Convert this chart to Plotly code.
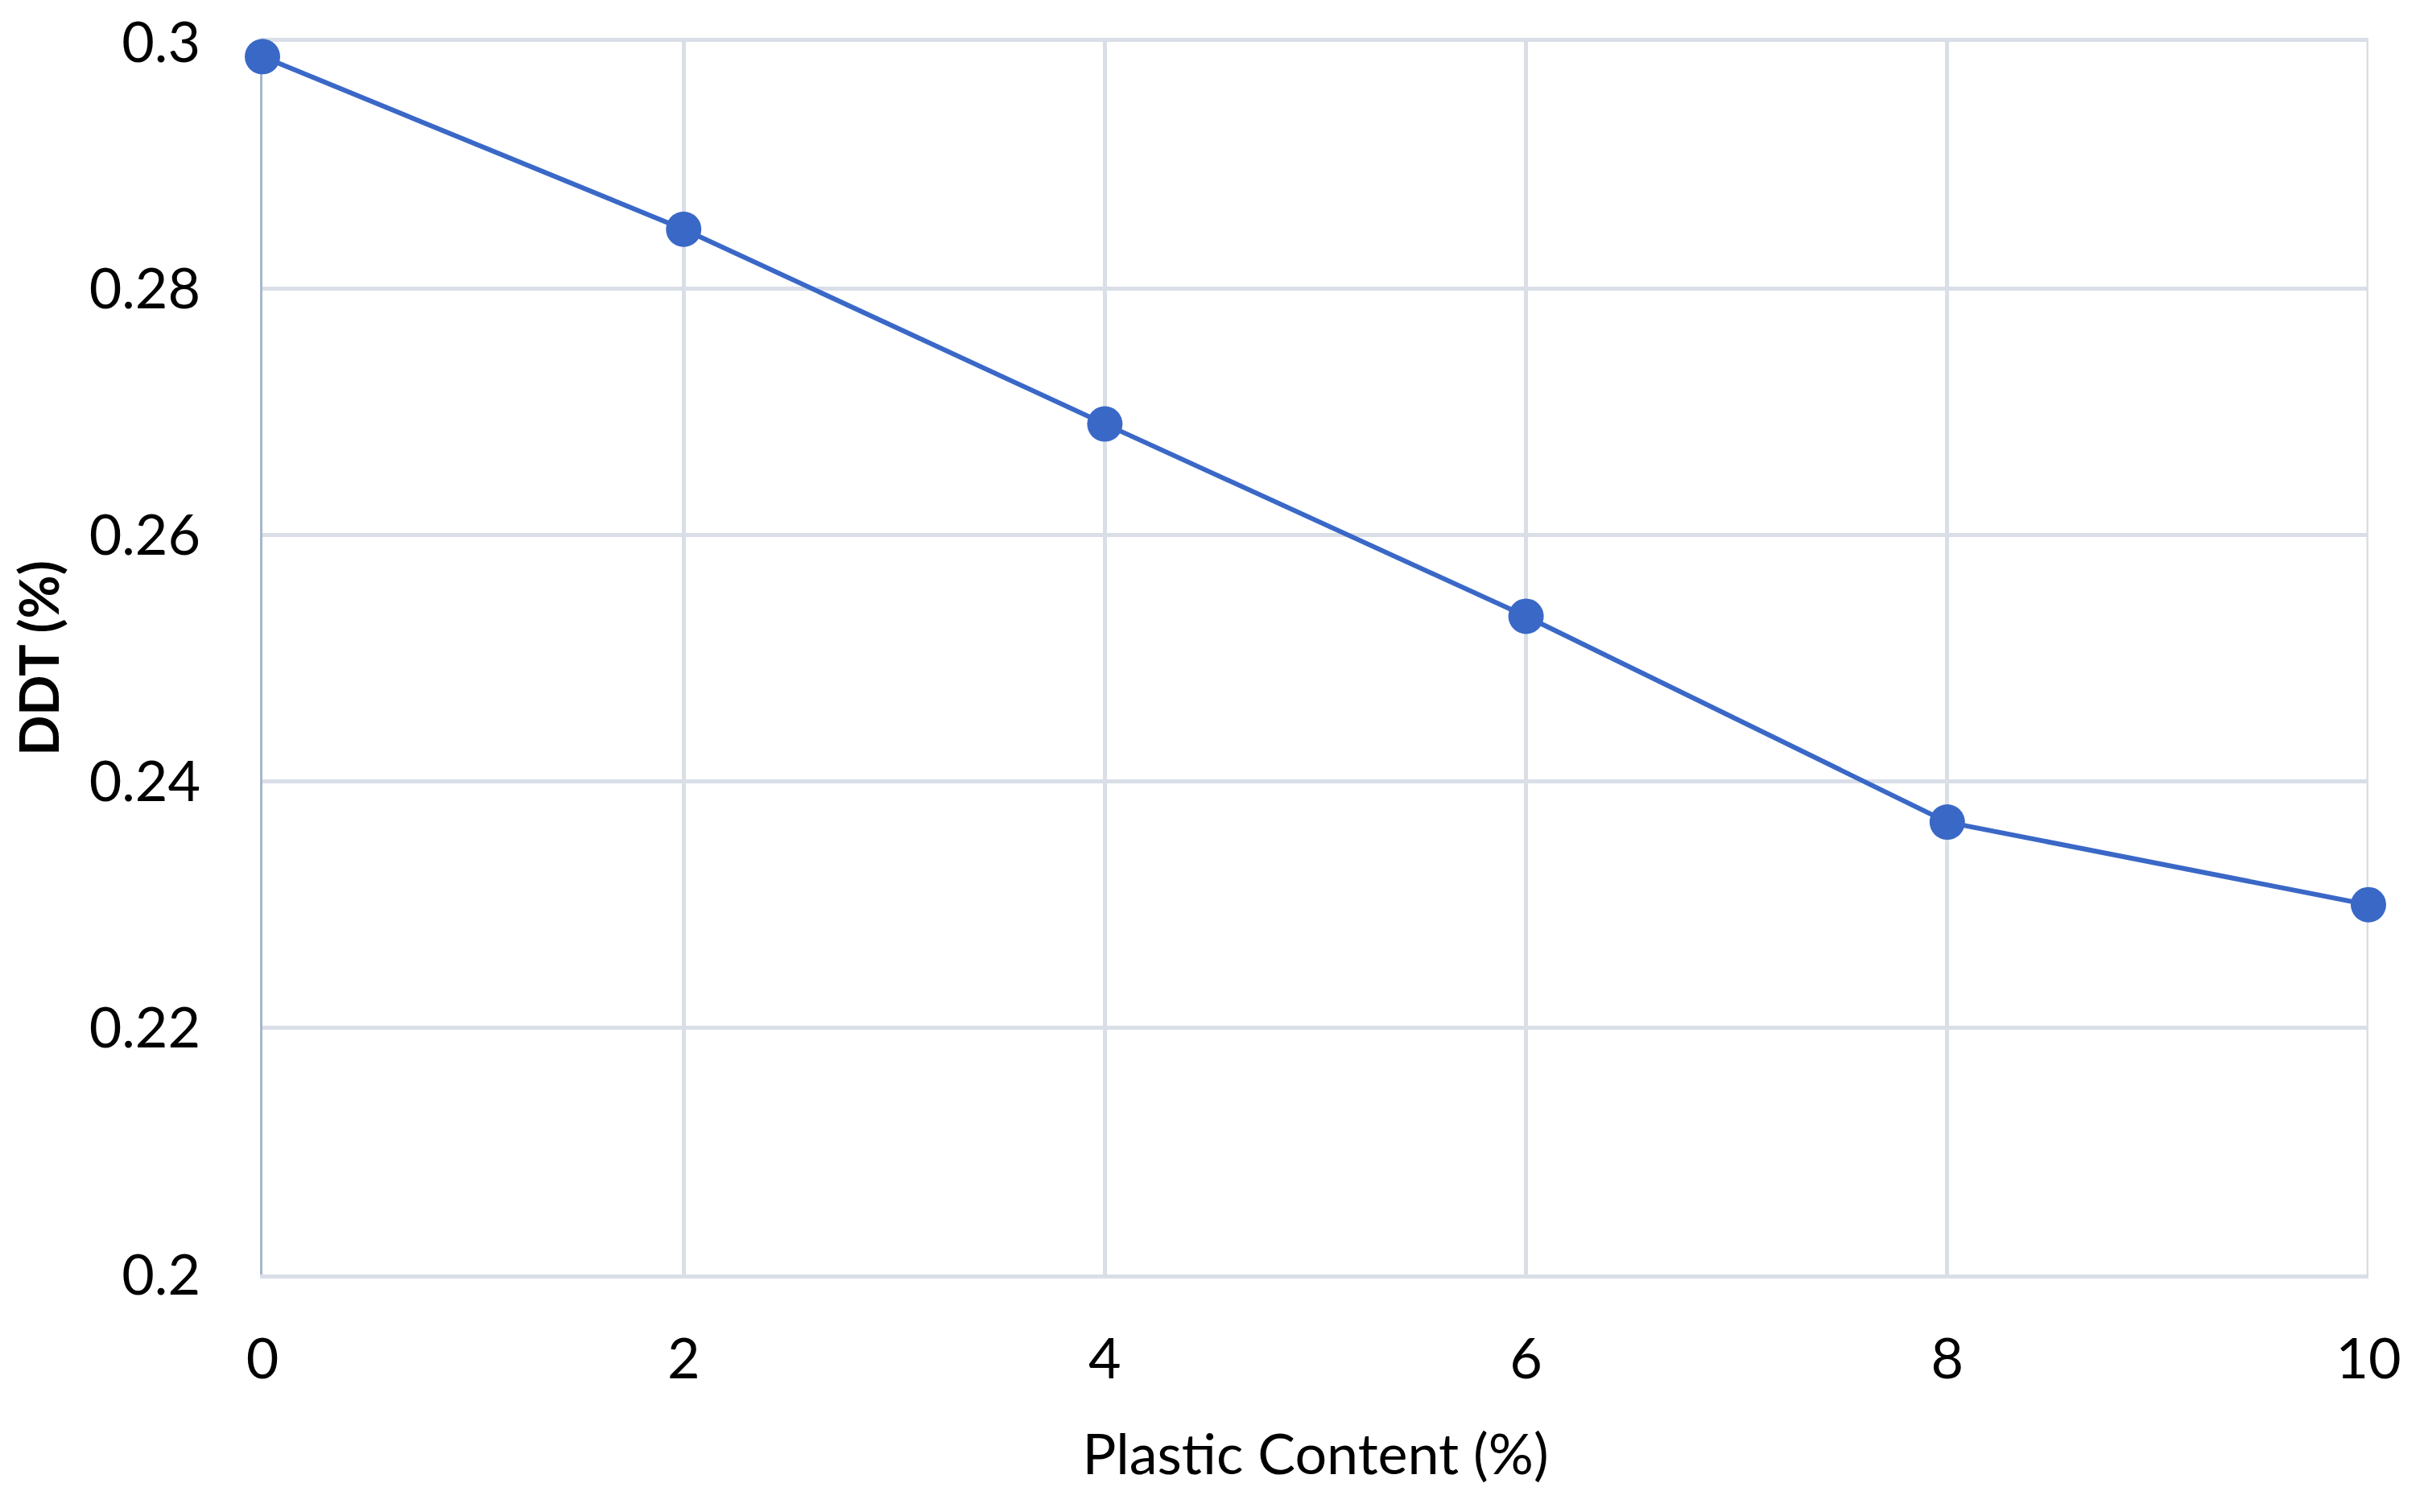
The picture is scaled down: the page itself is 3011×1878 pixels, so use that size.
import plotly.graph_objects as go

plastic_content = [0, 2, 4, 6, 8, 10]
ddt_values = [0.2988, 0.2848, 0.2690, 0.2534, 0.2367, 0.2300]
x_ticks = [0, 2, 4, 6, 8, 10]
y_ticks = [0.2, 0.22, 0.24, 0.26, 0.28, 0.3]
y_tick_labels = ["0.2", "0.22", "0.24", "0.26", "0.28", "0.3"]

FONT = "Lato, Arial, sans-serif"
GRID = "#d9dee7"
BLUE = "#3a68c7"

fig = go.Figure()
fig.add_trace(go.Scatter(
    x=plastic_content, y=ddt_values, mode="lines+markers",
    line=dict(color=BLUE, width=6),
    marker=dict(color=BLUE, size=44),
    cliponaxis=False, showlegend=False,
))

# right border gridline at the last x tick
fig.add_vline(x=x_ticks[-1], line=dict(color=GRID, width=5), layer="below")

fig.update_layout(
    width=3011, height=1878,
    margin=dict(l=318, r=77, t=44, b=303),
    plot_bgcolor="white", paper_bgcolor="white",
    font=dict(family=FONT, color="black", size=70),
)
fig.update_xaxes(
    range=[0, 10], tickvals=x_ticks, showgrid=True, gridcolor=GRID, gridwidth=5,
    zeroline=False, showline=True, mirror=True, linecolor=GRID, linewidth=5,
    layer="below traces", ticklabeloverflow="allow", automargin=False,
    ticks="", ticklabelstandoff=40,
    tickfont=dict(size=70, family=FONT),
    title=dict(text="Plastic Content (%)", font=dict(size=70, family=FONT), standoff=57),
)
fig.update_yaxes(
    range=[0.2, 0.3], tickvals=y_ticks, ticktext=y_tick_labels,
    showgrid=True, gridcolor=GRID, gridwidth=5,
    zeroline=False, showline=True, linecolor="#a9b6cc", linewidth=3,
    layer="below traces", ticklabeloverflow="allow", automargin=False,
    ticks="", ticklabelstandoff=60,
    tickfont=dict(size=70, family=FONT),
    title=dict(text="<b>DDT (%)</b>", font=dict(size=66, family=FONT), standoff=36),
)

fig.write_html("out.html")
